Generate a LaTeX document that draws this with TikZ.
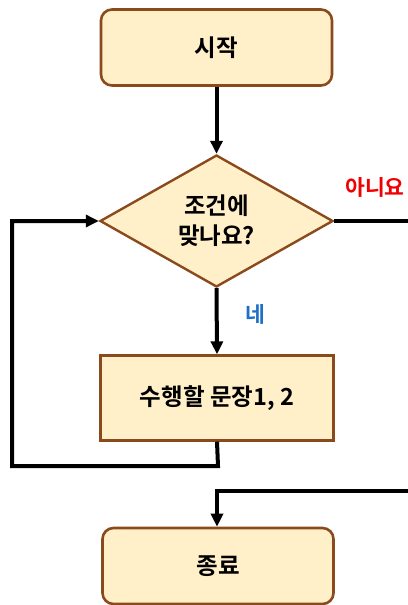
\documentclass[tikz,border=0pt]{standalone}
\usepackage{fontspec}
\setmainfont{Noto Sans CJK KR}[BoldFont={* Bold}]
\newfontfamily\kr{Noto Sans CJK KR Bold}
\usetikzlibrary{shapes.geometric,arrows.meta}
\definecolor{boxfill}{HTML}{FFF0CA}
\definecolor{boxdraw}{HTML}{8B4A1C}
\definecolor{nored}{HTML}{F00000}
\definecolor{yesblue}{HTML}{1F6FC5}
\tikzset{
  termbox/.style={draw=boxdraw, fill=boxfill, line width=2.6pt, rounded corners=11pt, minimum width=231pt, minimum height=76pt, font=\kr\fontsize{23.5}{28}\selectfont},
  procbox/.style={draw=boxdraw, fill=boxfill, line width=2.4pt, minimum width=233pt, minimum height=85pt, font=\kr\fontsize{23.5}{28}\selectfont},
  decbox/.style={draw=boxdraw, fill=boxfill, line width=2.4pt, diamond, aspect=1.77, minimum width=233pt, minimum height=132pt, inner sep=0pt, align=center, font=\kr\fontsize{23.5}{30}\selectfont},
  conn/.style={line width=4pt, -{Triangle[length=13pt,width=12pt]}},
  plain/.style={line width=4pt},
  lbl/.style={font=\kr\fontsize{21.5}{24}\selectfont}
}
\begin{document}
\begin{tikzpicture}[x=1pt,y=-1pt]
\useasboundingbox (0,0) rectangle (407,605);
\node[termbox] (start) at (216.5,47.5) {시작};
\node[decbox] (cond) at (216.5,221) {조건에\\맞나요?};
\node[procbox] (proc) at (217,398) {수행할 문장1, 2};
\node[termbox] (end) at (218,566) {종료};
\coordinate (rexit) at (409,221);
\coordinate (lb) at (12,466);
\coordinate (lt) at (12,221);
\coordinate (pb) at (218,466);
\coordinate (rin) at (409,491);
\coordinate (bj) at (217,491);
\draw[conn] (start.south) -- (cond.north);
\draw[conn] (cond.south) -- (proc.north);
\draw[plain] (cond.east) -- (rexit);
\draw[conn, line join=miter] (proc.south) -- (pb) -- (lb) -- (lt) -- (cond.west);
\draw[conn, line join=miter] (rin) -- (bj) -- (bj |- end.north);
\node[lbl, text=nored] (no) at (375,187) {아니요};
\node[lbl, text=yesblue] (yes) at (255,314) {네};
\end{tikzpicture}
\end{document}
